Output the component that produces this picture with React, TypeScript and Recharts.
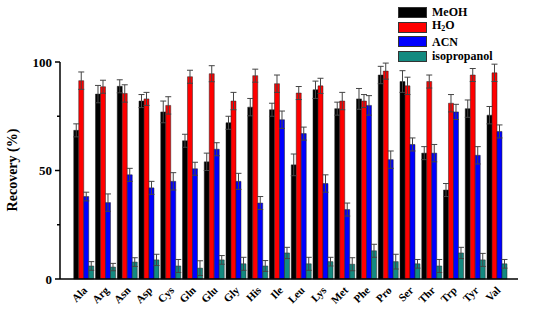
import React from "react"
import { BarChart, Bar, XAxis, YAxis, ErrorBar, Label } from "recharts"

const categories = ["Ala", "Arg", "Asn", "Asp", "Cys", "Gln", "Glu", "Gly", "His", "Ile", "Leu", "Lys", "Met", "Phe", "Pro", "Ser", "Thr", "Trp", "Tyr", "Val"]

const meoh = [68.5, 85.2, 88.8, 82, 77, 63.7, 54, 72, 79.2, 78, 52.6, 87.2, 78.5, 83, 94, 91, 58, 41, 78.5, 75.5]
const meohErr = [3, 4, 3, 3, 5, 3, 4, 3, 4, 3, 5, 4, 3, 4.8, 4, 5, 3, 3, 4, 4]
const h2o = [91.4, 88.6, 85.5, 83, 80, 93.2, 94.6, 82, 93.7, 90, 85.7, 89, 82, 82, 95.8, 89, 91, 81, 94, 95]
const h2oErr = [4, 3, 4, 3, 4, 3, 3.7, 4, 3, 4, 3, 3.5, 4, 3, 3.7, 4, 3, 4, 3, 4]
const acn = [38, 35.2, 48, 42, 45, 50.8, 59.8, 45, 35, 73.4, 67, 44, 32, 80, 55, 62, 58, 77, 57, 68]
const acnErr = [2, 4, 3, 3, 4, 3, 3, 3.7, 3, 4, 3, 4, 3, 4.5, 4, 3, 4, 3.5, 4, 3]
const iso = [6, 5.5, 7.8, 8.8, 6, 5, 8.8, 7, 6, 12, 7, 8, 6.8, 13, 8, 7, 6, 12, 8.8, 7]
const isoErr = [2, 1.7, 2, 2.6, 3, 3.4, 2, 3, 2.5, 2.6, 3, 2, 3, 3, 3.4, 2, 3, 2.6, 3, 2]

const yTicks = [0, 25, 50, 75, 100]

const data = categories.map((name, i) => ({
  name,
  meoh: meoh[i],
  meohErr: meohErr[i],
  h2o: h2o[i],
  h2oErr: h2oErr[i],
  acn: acn[i],
  acnErr: acnErr[i],
  iso: iso[i],
  isoErr: isoErr[i],
}))

const FONT = "'Liberation Serif', 'Times New Roman', serif"

const legendItems = [
  { key: "meoh", color: "#000000", label: <>MeOH</> },
  { key: "h2o", color: "#ff0000", label: <>H<span style={{ fontSize: 8, verticalAlign: -2 }}>2</span>O</> },
  { key: "acn", color: "#0000ff", label: <>ACN</> },
  { key: "iso", color: "#138a80", label: <>isopropanol</> },
]

function LegendBox() {
  return (
    <div style={{ position: "absolute", left: 398, top: 5, fontFamily: FONT, fontWeight: "bold", fontSize: 12 }}>
      {legendItems.map((it) => (
        <div key={it.key} style={{ display: "flex", alignItems: "center", height: 14.7, lineHeight: "12px" }}>
          <span style={{ display: "inline-block", width: 27, height: 9, background: it.color, border: "1px solid #333", marginRight: 5 }} />
          <span>{it.label}</span>
        </div>
      ))}
    </div>
  )
}

function YTick(props: any) {
  const { x, y, payload } = props
  const major = payload.value % 50 === 0
  return (
    <g>
      <line x1={x - (major ? 5 : 3)} x2={x} y1={y} y2={y} stroke="#000" strokeWidth={1.5} />
      {major && (
        <text x={x - 8} y={y} textAnchor="end" dominantBaseline="central" fontFamily={FONT} fontWeight="bold" fontSize={13} fill="#000">
          {payload.value}
        </text>
      )}
    </g>
  )
}

function XTick(props: any) {
  const { x, y, payload } = props
  return (
    <text
      x={x + 5}
      y={y + 10}
      transform={`rotate(-45, ${x + 5}, ${y + 10})`}
      textAnchor="end"
      fontFamily={FONT}
      fontWeight="bold"
      fontSize={11}
      fill="#000"
    >
      {payload.value}
    </text>
  )
}

export default function App() {
  return (
    <div style={{ position: "absolute", left: 0, top: 0, width: 550, height: 314, background: "#fff" }}>
      <BarChart
        width={550}
        height={314}
        data={data}
        margin={{ top: 62, right: 32, bottom: 0, left: 0 }}
        barCategoryGap="8%"
        barGap={0}
      >
        <XAxis
          dataKey="name"
          tick={<XTick />}
          tickLine={false}
          tickSize={0}
          height={35}
          padding={{ left: 12, right: 11 }}
          axisLine={{ stroke: "#000", strokeWidth: 1.5 }}
          interval={0}
        />
        <YAxis
          domain={[0, 100]}
          ticks={yTicks}
          tick={<YTick />}
          tickLine={false}
          tickSize={0}
          tickMargin={0}
          width={60}
          axisLine={{ stroke: "#000", strokeWidth: 1.5 }}
        >
          <Label
            content={() => (
              <text
                x={12}
                y={170}
                transform="rotate(-90, 12, 170)"
                textAnchor="middle"
                dominantBaseline="central"
                fontFamily={FONT}
                fontWeight="bold"
                fontSize={14}
                fill="#000"
              >
                Recovery (%)
              </text>
            )}
          />
        </YAxis>
        <Bar dataKey="meoh" fill="#000000" stroke="#222" strokeWidth={0.5} isAnimationActive={false}>
          <ErrorBar dataKey="meohErr" width={3} stroke="#444" strokeWidth={1} />
        </Bar>
        <Bar dataKey="h2o" fill="#ff0000" stroke="#222" strokeWidth={0.5} isAnimationActive={false}>
          <ErrorBar dataKey="h2oErr" width={3} stroke="#444" strokeWidth={1} />
        </Bar>
        <Bar dataKey="acn" fill="#0000ff" stroke="#222" strokeWidth={0.5} isAnimationActive={false}>
          <ErrorBar dataKey="acnErr" width={3} stroke="#444" strokeWidth={1} />
        </Bar>
        <Bar dataKey="iso" fill="#138a80" stroke="#222" strokeWidth={0.5} isAnimationActive={false}>
          <ErrorBar dataKey="isoErr" width={3} stroke="#444" strokeWidth={1} />
        </Bar>
      </BarChart>
      <LegendBox />
    </div>
  )
}
